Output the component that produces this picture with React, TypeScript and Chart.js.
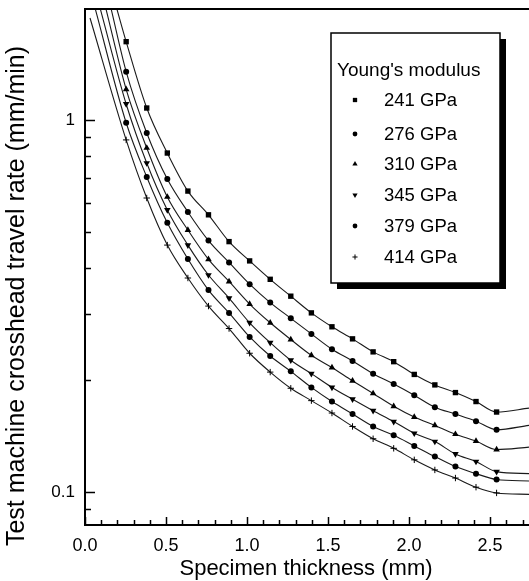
import React, { useEffect, useRef } from 'react';
import { Chart, registerables } from 'chart.js';

Chart.register(...registerables);

// Specimen thickness (mm) at which markers are plotted
const thicknessMm = [0.254, 0.381, 0.508, 0.635, 0.762, 0.889, 1.016, 1.143, 1.27, 1.397, 1.524, 1.651, 1.778, 1.905, 2.032, 2.159, 2.286, 2.413, 2.54];

const seriesLabels = ['241 GPa', '276 GPa', '310 GPa', '345 GPa', '379 GPa', '414 GPa'];

// Crosshead travel rate (mm/min)
const rate241 = [1.624, 1.077, 0.815, 0.644, 0.556, 0.471, 0.418, 0.373, 0.336, 0.303, 0.278, 0.258, 0.238, 0.224, 0.207, 0.194, 0.185, 0.175, 0.164];
const rate276 = [1.349, 0.923, 0.694, 0.566, 0.474, 0.414, 0.362, 0.323, 0.293, 0.266, 0.242, 0.225, 0.208, 0.195, 0.182, 0.169, 0.162, 0.155, 0.147];
const rate310 = [1.209, 0.841, 0.621, 0.506, 0.422, 0.368, 0.320, 0.285, 0.257, 0.233, 0.216, 0.199, 0.184, 0.170, 0.159, 0.151, 0.143, 0.137, 0.130];
const rate345 = [1.104, 0.766, 0.573, 0.461, 0.383, 0.332, 0.285, 0.252, 0.226, 0.208, 0.191, 0.1775, 0.1654, 0.1546, 0.1438, 0.1366, 0.1265, 0.1207, 0.1134];
const rate379 = [0.983, 0.703, 0.529, 0.423, 0.349, 0.303, 0.261, 0.232, 0.211, 0.191, 0.175, 0.162, 0.150, 0.142, 0.133, 0.1245, 0.117, 0.112, 0.108];
const rate414 = [0.884, 0.617, 0.461, 0.376, 0.316, 0.275, 0.236, 0.210, 0.190, 0.176, 0.163, 0.150, 0.139, 0.131, 0.122, 0.1146, 0.109, 0.103, 0.0994];

// Fitted curve ends
const curveStartX = [0.195, 0.16, 0.128, 0.093, 0.062, 0.031];
const curveStartY = [2.0, 2.0, 2.0, 2.0, 2.0, 1.88];
const curveEndX = 2.74;
const curveEndY = [0.168, 0.151, 0.132, 0.112, 0.107, 0.0985];

// Axes
const xMin = 0;
const xMax = 2.74;
const yMin = 0.0815;
const yMax = 1.988;
const xTickValues = [0, 0.5, 1, 1.5, 2, 2.5];
const xTickLabels = ['0.0', '0.5', '1.0', '1.5', '2.0', '2.5'];
const xMinorTicks = [0.1, 0.2, 0.3, 0.4, 0.6, 0.7, 0.8, 0.9, 1.1, 1.2, 1.3, 1.4, 1.6, 1.7, 1.8, 1.9, 2.1, 2.2, 2.3, 2.4, 2.6, 2.7];
const yTickValues = [0.1, 1];
const yTickLabels = ['0.1', '1'];
const yMinorTicks = [0.09, 0.2, 0.3, 0.4, 0.5, 0.6, 0.7, 0.8, 0.9];

const xTitle = 'Specimen thickness (mm)';
const yTitle = 'Test machine crosshead travel rate (mm/min)';
const legendTitle = "Young's modulus";

const allRates = [rate241, rate276, rate310, rate345, rate379, rate414];
const pointStyles = ['rect', 'circle', 'triangle', 'triangle', 'circle', 'cross'];
const pointRotations = [0, 0, 0, 180, 0, 0];
const pointRadii = [3.8, 3.0, 3.8, 3.8, 3.0, 3.2];

const FONT = '"Liberation Sans", Arial, sans-serif';

function drawMarker(ctx: CanvasRenderingContext2D, style: string, rot: number, r: number, x: number, y: number) {
  ctx.save();
  ctx.fillStyle = '#000';
  ctx.strokeStyle = '#000';
  ctx.lineWidth = 1;
  ctx.beginPath();
  if (style === 'rect') {
    const s = r * Math.SQRT1_2;
    ctx.rect(x - s, y - s, 2 * s, 2 * s);
    ctx.fill();
  } else if (style === 'circle') {
    ctx.arc(x, y, r, 0, Math.PI * 2);
    ctx.fill();
  } else if (style === 'triangle') {
    const a = (rot * Math.PI) / 180;
    for (let i = 0; i < 3; i++) {
      const ang = a - Math.PI / 2 + (i * 2 * Math.PI) / 3;
      const px = x + Math.cos(ang) * r;
      const py = y + Math.sin(ang) * r;
      if (i === 0) ctx.moveTo(px, py);
      else ctx.lineTo(px, py);
    }
    ctx.closePath();
    ctx.fill();
  } else if (style === 'cross') {
    ctx.moveTo(x - r, y);
    ctx.lineTo(x + r, y);
    ctx.moveTo(x, y - r);
    ctx.lineTo(x, y + r);
    ctx.stroke();
  }
  ctx.restore();
}

const framePlugin = {
  id: 'frameAndText',
  afterDraw(chart: any) {
    const { ctx, chartArea, scales } = chart;
    const xs = scales.x;
    const ys = scales.y;
    ctx.save();
    // frame
    ctx.strokeStyle = '#000';
    ctx.lineWidth = 2;
    ctx.beginPath();
    ctx.moveTo(chartArea.right + 2, chartArea.top);
    ctx.lineTo(chartArea.left, chartArea.top);
    ctx.lineTo(chartArea.left, chartArea.bottom);
    ctx.lineTo(chartArea.right + 2, chartArea.bottom);
    ctx.stroke();
    // x ticks (inward)
    ctx.lineWidth = 1.5;
    ctx.beginPath();
    xTickValues.forEach((v) => {
      const px = Math.round(xs.getPixelForValue(v)) + 0.5;
      ctx.moveTo(px, chartArea.bottom);
      ctx.lineTo(px, chartArea.bottom - 8);
    });
    xMinorTicks.forEach((v) => {
      const px = Math.round(xs.getPixelForValue(v)) + 0.5;
      ctx.moveTo(px, chartArea.bottom);
      ctx.lineTo(px, chartArea.bottom - 5);
    });
    yTickValues.forEach((v) => {
      const py = Math.round(ys.getPixelForValue(v)) + 0.5;
      ctx.moveTo(chartArea.left, py);
      ctx.lineTo(chartArea.left + 10, py);
    });
    yMinorTicks.forEach((v) => {
      const py = Math.round(ys.getPixelForValue(v)) + 0.5;
      ctx.moveTo(chartArea.left, py);
      ctx.lineTo(chartArea.left + 6, py);
    });
    ctx.stroke();

    // axis titles
    ctx.fillStyle = '#000';
    ctx.font = `22px ${FONT}`;
    ctx.textAlign = 'center';
    ctx.textBaseline = 'middle';
    ctx.fillText(xTitle, 306, 569);
    ctx.save();
    ctx.translate(17, 296);
    ctx.rotate(-Math.PI / 2);
    ctx.font = `25px ${FONT}`;
    ctx.fillText(yTitle, 0, 0);
    ctx.restore();

    // legend box with shadow
    const bx = 331, by = 33, bw = 169, bh = 250;
    ctx.fillStyle = '#000';
    ctx.fillRect(bx + 6, by + 6, bw, bh);
    ctx.fillStyle = '#fff';
    ctx.fillRect(bx, by, bw, bh);
    ctx.strokeStyle = '#000';
    ctx.lineWidth = 1.5;
    ctx.strokeRect(bx, by, bw, bh);
    ctx.fillStyle = '#000';
    ctx.textAlign = 'left';
    ctx.textBaseline = 'middle';
    ctx.font = `19px ${FONT}`;
    ctx.fillText(legendTitle, 337, 71);
    ctx.font = `18.5px ${FONT}`;
    const rowY = [100, 134, 164, 195, 226, 257];
    chart.data.datasets.forEach((ds: any, i: number) => {
      drawMarker(ctx, pointStyles[i], pointRotations[i], pointRadii[i] * 0.8, 355, rowY[i]);
      ctx.fillStyle = '#000';
      ctx.fillText(ds.label, 384, rowY[i] + 1);
    });
    ctx.restore();
  },
};

export default function App() {
  const canvasRef = useRef<HTMLCanvasElement | null>(null);

  useEffect(() => {
    const canvas = canvasRef.current;
    if (!canvas) return;
    const datasets = allRates.map((rates, i) => {
      const data = [
        { x: curveStartX[i], y: curveStartY[i] },
        ...thicknessMm.map((x, j) => ({ x, y: rates[j] })),
        { x: curveEndX, y: curveEndY[i] },
      ];
      const last = data.length - 1;
      return {
        label: seriesLabels[i],
        data,
        borderColor: '#1a1a1a',
        borderWidth: 1.1,
        backgroundColor: '#000',
        pointBackgroundColor: '#000',
        pointBorderColor: '#000',
        pointBorderWidth: pointStyles[i] === 'cross' ? 1 : 0,
        pointStyle: pointStyles[i],
        pointRotation: pointRotations[i],
        pointRadius: (c: any) => (c.dataIndex === 0 || c.dataIndex === last ? 0 : pointRadii[i]),
        cubicInterpolationMode: 'monotone',
        fill: false,
      };
    });

    const chart = new Chart(canvas, {
      type: 'line',
      data: { datasets: datasets as any },
      options: {
        responsive: false,
        animation: false,
        events: [],
        layout: { padding: { top: 9, left: 0, right: 0, bottom: 0 } },
        plugins: { legend: { display: false }, tooltip: { enabled: false }, title: { display: false } },
        scales: {
          x: {
            type: 'linear',
            min: xMin,
            max: xMax,
            grid: { display: false, drawTicks: false },
            border: { display: false },
            afterBuildTicks: (scale: any) => {
              scale.ticks = xTickValues.map((v) => ({ value: v }));
            },
            afterFit: (scale: any) => {
              scale.height = 56;
              scale.paddingLeft = 0;
              scale.paddingRight = 0;
            },
            ticks: {
              color: '#000',
              padding: 10,
              maxRotation: 0,
              autoSkip: false,
              font: { family: FONT, size: 18 },
              callback: (v: any) => {
                const idx = xTickValues.indexOf(Number(v));
                return idx >= 0 ? xTickLabels[idx] : '';
              },
            },
          },
          y: {
            type: 'logarithmic',
            min: yMin,
            max: yMax,
            grid: { display: false, drawTicks: false },
            border: { display: false },
            afterBuildTicks: (scale: any) => {
              scale.ticks = yTickValues.map((v) => ({ value: v }));
            },
            afterFit: (scale: any) => {
              scale.width = 85;
              scale.paddingTop = 0;
              scale.paddingBottom = 0;
            },
            ticks: {
              color: '#000',
              padding: 10,
              autoSkip: false,
              font: { family: FONT, size: 17 },
              callback: (v: any) => {
                const idx = yTickValues.indexOf(Number(v));
                return idx >= 0 ? yTickLabels[idx] : '';
              },
            },
          },
        },
      },
      plugins: [framePlugin],
    });
    return () => chart.destroy();
  }, []);

  return (
    <div style={{ position: 'absolute', left: 0, top: 0, width: 529, height: 581, background: '#fff' }}>
      <canvas ref={canvasRef} width={529} height={581} style={{ display: 'block' }} />
    </div>
  );
}
